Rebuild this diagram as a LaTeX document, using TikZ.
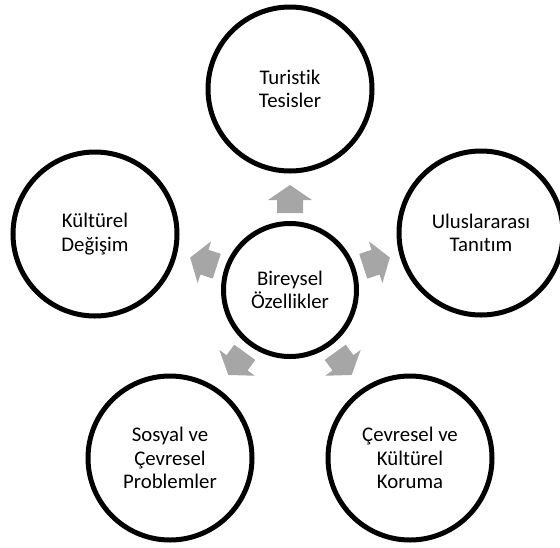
\documentclass[tikz,border=0pt]{standalone}
\usepackage{fontspec}
\setmainfont[Ligatures={NoCommon}]{Carlito}
\usetikzlibrary{calc}
\definecolor{arrowgray}{RGB}{166,166,166}
\tikzset{
  bubble/.style={circle, draw=black, line width=5pt, fill=white, minimum size=164pt,
    inner sep=0pt, align=center, font=\fontsize{20.8}{23.3}\selectfont},
  hub/.style={bubble, minimum size=133pt},
  blockarrow/.pic={\fill[arrowgray] (-14,-13) -- (-1,-13) -- (-1,-22) -- (14,0) -- (-1,22) -- (-1,13) -- (-14,13) -- cycle;}
}
\begin{document}
\begin{tikzpicture}[x=1pt,y=-1pt]
\useasboundingbox (0,0) rectangle (560,547);
\node[hub] (c) at (290,290) {Bireysel\\Özellikler};
\node[bubble] (t) at (290,89) {Turistik\\Tesisler};
\node[bubble] (l) at (95,234) {Kültürel\\Değişim};
\node[bubble] (r) at (481,233) {Uluslararası\\Tanıtım};
\node[bubble] (bl) at (170,458) {Sosyal ve\\Çevresel\\Problemler};
\node[bubble] (br) at (410,458) {Çevresel ve\\Kültürel\\Koruma};
\foreach \ang/\nm in {90/a1,162/a2,18/a3,234/a4,306/a5}{
  \coordinate (\nm) at ($(c.center)+(\ang:91pt)$);
  \path (\nm) pic[rotate=\ang] {blockarrow};
}
\end{tikzpicture}
\end{document}
